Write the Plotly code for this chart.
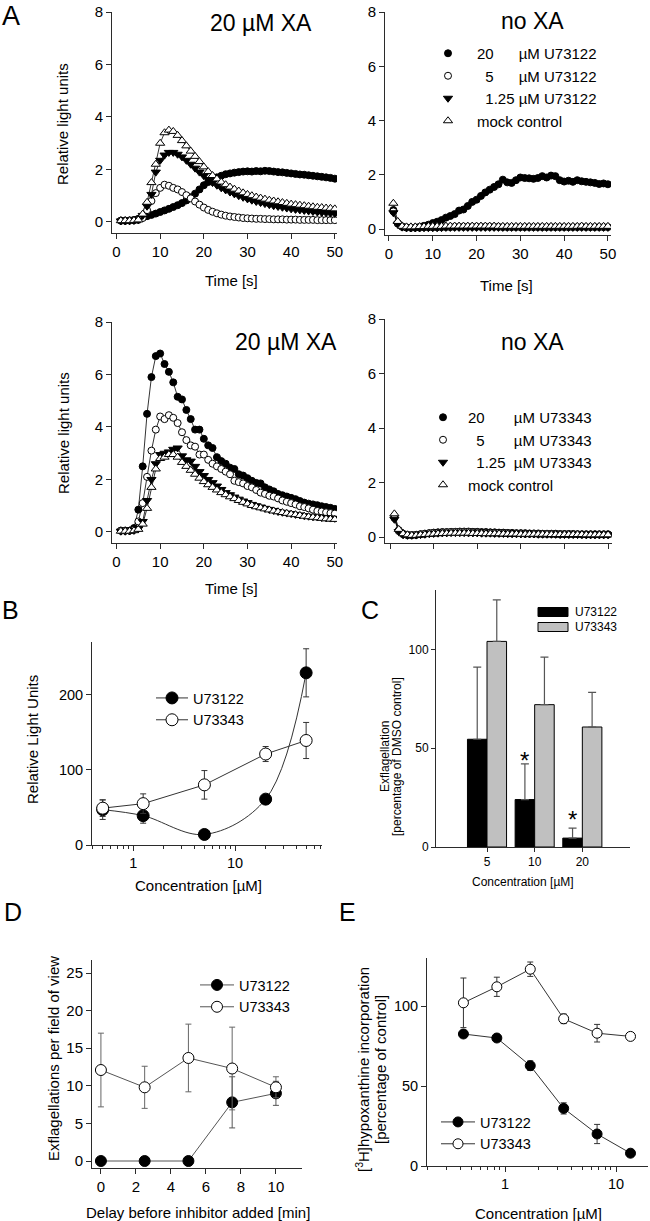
import plotly.graph_objects as go

W, H = 650, 1221
def px(x): return x / W
def py(y): return 1 - y / H

FONT = "Liberation Sans, Arial, Helvetica, sans-serif"
AXC = "#2b2b2b"
NB = "\u00a0"

# ---------------- Panel A data (time courses, t = 1..50 s) ----------------
time_s = list(range(1, 51))

# top-left: 20 uM XA, U73122
a_xa_u73122_20 = [0.05,0.05,0.06,0.08,0.12, 0.17,0.22,0.27,0.32,0.38, 0.44,0.50,0.57,0.64,0.72,
                  0.82,0.94,1.08,1.24,1.40, 1.52,1.62,1.70,1.76,1.82, 1.85,1.88,1.90,1.92,1.93,
                  1.92,1.94,1.93,1.95,1.94, 1.92,1.90,1.89,1.87,1.85, 1.83,1.81,1.80,1.78,1.76,
                  1.74,1.72,1.70,1.68,1.65]
a_xa_u73122_5 = [0.05,0.05,0.05,0.06,0.08, 0.15,0.45,0.80,1.10,1.30, 1.42,1.38,1.30,1.24,1.14,
                 1.02,0.90,0.78,0.66,0.55, 0.46,0.39,0.33,0.28,0.24, 0.21,0.19,0.17,0.15,0.14,
                 0.13,0.12,0.12,0.11,0.11, 0.10,0.10,0.10,0.09,0.09, 0.09,0.08,0.08,0.08,0.08,
                 0.07,0.07,0.07,0.07,0.07]
a_xa_u73122_125 = [0.04,0.04,0.05,0.06,0.08, 0.25,0.60,1.05,1.90,2.35, 2.55,2.65,2.65,2.58,2.48,
                   2.35,2.20,2.05,1.90,1.76, 1.62,1.50,1.40,1.30,1.22, 1.14,1.07,1.00,0.94,0.88,
                   0.83,0.78,0.74,0.70,0.66, 0.62,0.59,0.56,0.53,0.50, 0.48,0.46,0.44,0.42,0.40,
                   0.38,0.36,0.35,0.33,0.32]
a_xa_u73122_mock = [0.05,0.05,0.05,0.06,0.08, 0.30,0.75,1.50,2.20,3.00, 3.40,3.50,3.45,3.30,3.10,
                    2.90,2.70,2.50,2.30,2.10, 1.92,1.77,1.64,1.52,1.42, 1.33,1.25,1.18,1.11,1.05,
                    1.00,0.95,0.91,0.87,0.83, 0.80,0.77,0.74,0.71,0.68, 0.66,0.64,0.62,0.60,0.58,
                    0.56,0.55,0.53,0.52,0.50]

# top-right: no XA, U73122
a_no_u73122_20 = [0.70,0.22,0.10,0.06,0.05, 0.06,0.08,0.12,0.16,0.22, 0.27,0.33,0.42,0.48,0.55,
                  0.68,0.72,0.85,1.00,1.08, 1.22,1.35,1.45,1.55,1.65, 1.82,1.72,1.70,1.80,1.90,
                  1.88,1.87,1.85,1.88,1.95, 1.90,1.97,1.95,1.80,1.75, 1.78,1.74,1.80,1.76,1.74,
                  1.72,1.70,1.66,1.68,1.65]
a_no_u73122_5 = [0.65,0.20,0.08,0.05,0.05, 0.05,0.05,0.06,0.06,0.06, 0.06,0.07,0.07,0.07,0.08,
                 0.08,0.08,0.08,0.08,0.08, 0.08,0.08,0.08,0.08,0.08, 0.07,0.07,0.07,0.07,0.07,
                 0.07,0.07,0.07,0.07,0.07, 0.07,0.07,0.07,0.07,0.07, 0.07,0.07,0.07,0.08,0.07,
                 0.07,0.07,0.07,0.07,0.07]
a_no_u73122_125 = [0.60,0.18,0.07,0.05,0.04, 0.04,0.04,0.05,0.05,0.05, 0.05,0.05,0.06,0.06,0.06,
                   0.06,0.06,0.06,0.06,0.06, 0.06,0.06,0.06,0.06,0.06, 0.06,0.06,0.06,0.06,0.06,
                   0.06,0.06,0.06,0.06,0.06, 0.06,0.06,0.06,0.06,0.06, 0.06,0.06,0.06,0.06,0.06,
                   0.06,0.06,0.06,0.06,0.06]
a_no_u73122_mock = [0.95,0.28,0.10,0.08,0.08, 0.08,0.09,0.09,0.10,0.10, 0.10,0.10,0.11,0.11,0.11,
                    0.11,0.11,0.11,0.11,0.11, 0.11,0.11,0.11,0.11,0.10, 0.10,0.10,0.10,0.10,0.10,
                    0.10,0.10,0.10,0.10,0.10, 0.10,0.10,0.10,0.10,0.10, 0.10,0.10,0.10,0.11,0.10,
                    0.10,0.10,0.10,0.10,0.10]

# bottom-left: 20 uM XA, U73343
a_xa_u73343_20 = [0.05,0.05,0.05,0.15,0.85, 2.50,4.50,5.90,6.70,6.80, 6.40,6.10,5.70,5.15,5.05,
                  4.65,4.30,3.90,3.90,3.55, 3.30,3.20,2.85,2.70,2.60, 2.45,2.40,2.20,2.15,2.05,
                  1.95,1.87,1.85,1.70,1.62, 1.55,1.45,1.40,1.35,1.30, 1.25,1.18,1.12,1.08,1.05,
                  1.02,0.98,0.95,0.92,0.88]
a_xa_u73343_5 = [0.05,0.05,0.05,0.08,0.40, 1.10,2.10,3.10,3.90,4.40, 4.30,4.45,4.35,4.15,3.80,
                 3.50,3.30,3.25,2.95,2.95, 2.75,2.60,2.50,2.40,2.30, 2.20,1.95,1.90,1.85,1.75,
                 1.70,1.60,1.50,1.45,1.38, 1.35,1.28,1.20,1.15,1.10, 1.05,0.98,0.95,0.90,0.85,
                 0.80,0.78,0.75,0.72,0.70]
a_xa_u73343_125 = [0.03,0.03,0.04,0.06,0.12, 0.40,1.20,2.00,2.60,2.95, 3.00,3.05,3.15,3.20,2.90,
                   2.75,2.70,2.50,2.30,2.15, 2.00,1.88,1.75,1.62,1.50, 1.42,1.33,1.25,1.18,1.12,
                   1.05,1.00,0.95,0.90,0.86, 0.82,0.78,0.75,0.72,0.70, 0.67,0.65,0.62,0.60,0.58,
                   0.57,0.55,0.54,0.53,0.52]
a_xa_u73343_mock = [0.03,0.03,0.03,0.05,0.10, 0.30,0.90,1.70,2.40,2.80, 2.85,2.95,2.95,2.85,2.65,
                    2.50,2.35,2.20,2.05,1.92, 1.80,1.70,1.60,1.50,1.42, 1.34,1.27,1.20,1.13,1.07,
                    1.01,0.96,0.92,0.88,0.84, 0.80,0.77,0.74,0.71,0.68, 0.66,0.63,0.60,0.58,0.56,
                    0.54,0.52,0.50,0.49,0.48]

# bottom-right: no XA, U73343
a_no_u73343_20 = [0.75,0.25,0.12,0.08,0.07, 0.08,0.10,0.12,0.14,0.16, 0.17,0.18,0.18,0.19,0.19,
                  0.20,0.20,0.20,0.19,0.19, 0.18,0.18,0.17,0.17,0.16, 0.16,0.15,0.15,0.14,0.14,
                  0.14,0.13,0.13,0.13,0.12, 0.12,0.12,0.12,0.11,0.11, 0.11,0.11,0.10,0.10,0.10,
                  0.10,0.10,0.10,0.10,0.10]
a_no_u73343_5 = [0.70,0.22,0.10,0.07,0.07, 0.08,0.10,0.12,0.14,0.15, 0.16,0.17,0.17,0.18,0.18,
                 0.18,0.18,0.18,0.17,0.17, 0.16,0.16,0.16,0.15,0.15, 0.14,0.14,0.13,0.13,0.13,
                 0.12,0.12,0.12,0.11,0.11, 0.11,0.11,0.10,0.10,0.10, 0.10,0.10,0.10,0.09,0.09,
                 0.09,0.09,0.09,0.09,0.09]
a_no_u73343_125 = [0.65,0.20,0.08,0.06,0.06, 0.07,0.09,0.10,0.12,0.13, 0.14,0.15,0.15,0.16,0.16,
                   0.16,0.16,0.15,0.15,0.15, 0.14,0.14,0.14,0.13,0.13, 0.13,0.12,0.12,0.12,0.11,
                   0.11,0.11,0.11,0.10,0.10, 0.10,0.10,0.10,0.09,0.09, 0.09,0.09,0.09,0.09,0.08,
                   0.08,0.08,0.08,0.08,0.08]
a_no_u73343_mock = [0.85,0.28,0.12,0.08,0.06, 0.06,0.08,0.09,0.10,0.11, 0.12,0.13,0.13,0.14,0.14,
                    0.14,0.14,0.14,0.13,0.13, 0.13,0.12,0.12,0.12,0.12, 0.11,0.11,0.11,0.11,0.10,
                    0.10,0.10,0.10,0.10,0.10, 0.10,0.09,0.09,0.09,0.09, 0.09,0.09,0.09,0.09,0.08,
                    0.08,0.08,0.08,0.08,0.08]

a_conc_labels = ["20", "5", "1.25"]

# ---------------- Panel B ----------------
b_conc = [0.5, 1.25, 5, 20, 50]
b_u73122 = [47, 39, 14, 61, 229]
b_u73122_err = [13, 10, 2, 3, 32]
b_u73343 = [49, 55, 80, 121, 139]
b_u73343_err = [11, 13, 19, 10, 24]

# ---------------- Panel C ----------------
c_conc = ["5", "10", "20"]
c_u73122 = [54.5, 24, 4.5]
c_u73122_err = [36.5, 18, 5]
c_u73343 = [104, 72, 60.7]
c_u73343_err = [21, 24, 17.5]

# ---------------- Panel D ----------------
d_delay = [0, 2.5, 5, 7.5, 10]
d_u73122 = [0, 0, 0, 7.8, 9.0]
d_u73122_err = [0, 0, 0, 3.4, 1.6]
d_u73343 = [12.1, 9.8, 13.7, 12.3, 9.8]
d_u73343_err = [4.9, 2.8, 4.5, 5.5, 1.4]

# ---------------- Panel E ----------------
e_conc = [0.421875, 0.84375, 1.6875, 3.375, 6.75, 13.5]
e_u73122 = [82.5, 80, 62.7, 36, 20, 8]
e_u73122_err = [2, 2, 3, 3.5, 6, 1.5]
e_u73343 = [102, 112, 123, 92, 83, 81]
e_u73343_err = [15.5, 6, 4.5, 3, 5.5, 1.5]

fig = go.Figure()

# ---------- marker styles ----------
M_FILLED = dict(symbol="circle", color="black", line=dict(color="black", width=1))
M_OPEN = dict(symbol="circle", color="white", line=dict(color="black", width=1))
M_TRI_DN = dict(symbol="triangle-down", color="black", line=dict(color="black", width=1))
M_TRI_UP = dict(symbol="triangle-up", color="white", line=dict(color="black", width=1))
a_styles = [(M_FILLED, 7), (M_OPEN, 7), (M_TRI_DN, 8), (M_TRI_UP, 8)]


def a_labels(drug, sp_main, sp_125):
    return [a_conc_labels[0] + NB * sp_main + "µM " + drug,
            NB * 2 + a_conc_labels[1] + NB * sp_main + "µM " + drug,
            NB * 2 + a_conc_labels[2] + NB * sp_125 + "µM " + drug,
            "mock control"]


def add_a_panel(series, xa, ya, labels=None, legend=None):
    for ys in series:
        fig.add_trace(go.Scatter(x=time_s, y=ys, mode="lines", xaxis=xa, yaxis=ya,
                                 line=dict(color="black", width=0.8), showlegend=False,
                                 hoverinfo="skip"))
    for i, ys in enumerate(series):
        st, sz = a_styles[i]
        fig.add_trace(go.Scatter(x=time_s, y=ys, mode="markers", xaxis=xa, yaxis=ya,
                                 marker=dict(size=sz, **st),
                                 name=labels[i] if labels else "series",
                                 showlegend=labels is not None,
                                 legend=legend if legend else "legend"))


add_a_panel([a_xa_u73122_20, a_xa_u73122_5, a_xa_u73122_125, a_xa_u73122_mock], "x", "y")
add_a_panel([a_no_u73122_20, a_no_u73122_5, a_no_u73122_125, a_no_u73122_mock], "x2", "y2",
            labels=a_labels("U73122", 6, 1), legend="legend")
add_a_panel([a_xa_u73343_20, a_xa_u73343_5, a_xa_u73343_125, a_xa_u73343_mock], "x3", "y3")
add_a_panel([a_no_u73343_20, a_no_u73343_5, a_no_u73343_125, a_no_u73343_mock], "x4", "y4",
            labels=a_labels("U73343", 7, 2), legend="legend2")

# ---------- Panel B ----------
ERR = dict(type="data", color="#333333", thickness=1, width=3)
fig.add_trace(go.Scatter(x=b_conc, y=b_u73122, mode="lines+markers", xaxis="x5", yaxis="y5",
                         name="U73122", legend="legend3",
                         line=dict(color="#333333", width=1, shape="spline", smoothing=1.0),
                         marker=dict(size=12, **M_FILLED),
                         error_y=dict(array=b_u73122_err, **ERR)))
fig.add_trace(go.Scatter(x=b_conc, y=b_u73343, mode="lines+markers", xaxis="x5", yaxis="y5",
                         name="U73343", legend="legend3",
                         line=dict(color="#333333", width=1),
                         marker=dict(size=12, **M_OPEN),
                         error_y=dict(array=b_u73343_err, **ERR)))

# ---------- Panel C ----------
c_pos = list(range(len(c_conc)))
fig.add_trace(go.Bar(x=c_pos, y=c_u73122, xaxis="x6", yaxis="y6", width=0.41, offset=-0.41,
                     marker=dict(color="black", line=dict(color="black", width=1)),
                     showlegend=False, name="U73122",
                     error_y=dict(type="data", array=c_u73122_err, arrayminus=[0] * len(c_conc),
                                  symmetric=False, color="#555555", thickness=1.2, width=4)))
fig.add_trace(go.Bar(x=c_pos, y=c_u73343, xaxis="x6", yaxis="y6", width=0.41, offset=0,
                     marker=dict(color="#c0c0c0", line=dict(color="black", width=1)),
                     showlegend=False, name="U73343",
                     error_y=dict(type="data", array=c_u73343_err, arrayminus=[0] * len(c_conc),
                                  symmetric=False, color="#555555", thickness=1.2, width=4)))

# ---------- Panel D ----------
fig.add_trace(go.Scatter(x=d_delay, y=d_u73122, mode="lines+markers", xaxis="x7", yaxis="y7",
                         name="U73122", legend="legend4",
                         line=dict(color="#555555", width=1),
                         marker=dict(size=11, **M_FILLED),
                         error_y=dict(array=d_u73122_err, type="data", color="#555555",
                                      thickness=1, width=3)))
fig.add_trace(go.Scatter(x=d_delay, y=d_u73343, mode="lines+markers", xaxis="x7", yaxis="y7",
                         name="U73343", legend="legend4",
                         line=dict(color="#555555", width=1),
                         marker=dict(size=11, **M_OPEN),
                         error_y=dict(array=d_u73343_err, type="data", color="#666666",
                                      thickness=1, width=3)))

# ---------- Panel E ----------
fig.add_trace(go.Scatter(x=e_conc, y=e_u73122, mode="lines+markers", xaxis="x8", yaxis="y8",
                         name="U73122", legend="legend5",
                         line=dict(color="#333333", width=1),
                         marker=dict(size=10, **M_FILLED),
                         error_y=dict(array=e_u73122_err, **ERR)))
fig.add_trace(go.Scatter(x=e_conc, y=e_u73343, mode="lines+markers", xaxis="x8", yaxis="y8",
                         name="U73343", legend="legend5",
                         line=dict(color="#333333", width=1),
                         marker=dict(size=10, **M_OPEN),
                         error_y=dict(array=e_u73343_err, **ERR)))


# ---------- axes ----------
def ax(domain_px, rng, size=14, **kw):
    d = dict(domain=domain_px, range=rng, showline=True, linecolor=AXC, linewidth=1,
             ticks="outside", ticklen=5, tickcolor=AXC, tickwidth=1, showgrid=False,
             zeroline=False, tickfont=dict(size=size, color="black", family=FONT),
             fixedrange=True)
    d.update(kw)
    return d


def xd(a, b): return [px(a), px(b)]
def yd(top, bottom): return [py(bottom), py(top)]


a_xt = [0, 10, 20, 30, 40, 50]
a_yt = [0, 2, 4, 6, 8]
minor_log = dict(ticks="outside", ticklen=3, tickcolor=AXC,
                 tickvals=[0.2, 0.3, 0.4, 0.5, 0.6, 0.7, 0.8, 0.9, 2, 3, 4, 5, 6, 7, 8, 9,
                           20, 30, 40, 50, 60, 70])

layout_axes = dict(
    xaxis=ax(xd(112, 337), [-1.03, 50.5], 15, tickvals=a_xt, anchor="y"),
    yaxis=ax(yd(12, 233), [-0.42, 8], 15, tickvals=a_yt, anchor="x"),
    xaxis2=ax(xd(385, 611), [-0.91, 50.7], 15, tickvals=a_xt, anchor="y2"),
    yaxis2=ax(yd(12, 235), [-0.22, 8], 15, tickvals=a_yt, anchor="x2"),
    xaxis3=ax(xd(112, 337), [-1.03, 50.5], 15, tickvals=a_xt, anchor="y3"),
    yaxis3=ax(yd(322, 543), [-0.42, 8], 15, tickvals=a_yt, anchor="x3"),
    xaxis4=ax(xd(385, 612), [-1.15, 50.9], 15, tickvals=a_xt, showticklabels=False, anchor="y4"),
    yaxis4=ax(yd(319, 543), [-0.22, 8], 15, tickvals=a_yt, anchor="x4"),
    xaxis5=ax(xd(92, 322), [-0.406, 1.855], 14.5, type="log", tickvals=[1, 10], ticktext=["1", "10"],
              minor=minor_log, anchor="y5"),
    yaxis5=ax(yd(642, 845), [0, 270], 14.5, tickvals=[0, 100, 200], anchor="x5"),
    xaxis6=ax(xd(436, 630), [-1.07, 3.0], 12, tickvals=c_pos, ticktext=c_conc,
              ticklen=4, anchor="y6"),
    yaxis6=ax(yd(590, 847), [0, 130], 12, tickvals=[0, 50, 100], ticklen=4, anchor="x6"),
    xaxis7=ax(xd(92, 302), [-0.51, 11.49], 15, tickvals=[0, 2, 4, 6, 8, 10], anchor="y7"),
    yaxis7=ax(yd(960, 1168), [-0.93, 26.73], 15, tickvals=[0, 5, 10, 15, 20, 25], anchor="x7"),
    xaxis8=ax(xd(427, 648), [-0.703, 1.288], 14.5, type="log", tickvals=[1, 10], ticktext=["1", "10"],
              minor=minor_log, anchor="y8"),
    yaxis8=ax(yd(958, 1166), [0, 130], 14.5, tickvals=[0, 50, 100], anchor="x8"),
)


# ---------- legends ----------
def leg(left, top, size, itemwidth):
    return dict(x=px(left), y=py(top), xanchor="left", yanchor="top", bgcolor="rgba(0,0,0,0)",
                borderwidth=0, font=dict(size=size, family=FONT, color="black"),
                itemwidth=itemwidth, tracegroupgap=0, itemclick=False, itemdoubleclick=False)


legends = dict(
    legend=leg(419, 37, 15, 48),
    legend2=leg(418, 401, 15, 40),
    legend3=leg(151, 682, 14.5, 32),
    legend4=leg(195, 969, 14.5, 34),
    legend5=leg(436, 1106, 14.5, 34),
)

# ---------- annotations ----------
def ann(text, x, y, size=14, angle=0, **kw):
    d = dict(text=text, x=px(x), y=py(y), xref="paper", yref="paper", showarrow=False,
             xanchor="center", yanchor="middle", textangle=angle,
             font=dict(size=size, family=FONT, color="black"))
    d.update(kw)
    return d


annotations = [
    ann("A", 11, 16, 27), ann("B", 10, 610, 25), ann("C", 370, 610, 25),
    ann("D", 13, 912, 25), ann("E", 347, 912, 25),
    ann("20 µM XA", 261, 23, 23), ann("no XA", 532, 21, 23),
    ann("20 µM XA", 286, 342, 23), ann("no XA", 532, 342, 23),
    ann("Relative light units", 63, 124, 15, -90),
    ann("Relative light units", 63, 433, 15, -90),
    ann("Time [s]", 231, 281, 15), ann("Time [s]", 506, 285, 15), ann("Time [s]", 232, 588, 15),
    ann("Relative Light Units", 32, 740, 15, -90),
    ann("Concentration [µM]", 198, 885, 15),
    ann("Exflagellation", 385, 757, 12, -90),
    ann("[percentage of DMSO control]", 397, 757, 12, -90),
    ann("Concentration [µM]", 523, 882, 12),
    ann("U73122", 573, 612, 12, xanchor="left"),
    ann("U73343", 573, 627, 12, xanchor="left"),
    ann("Exflagellations per field of view", 53, 1058, 15, -90),
    ann("Delay before inhibitor added [min]", 198, 1212, 15),
    ann("[<sup>3</sup>H]hypoxanthine incorporation", 362, 1070, 15, -90),
    ann("[percentage of control]", 380, 1070, 15, -90),
    ann("Concentration [µM]", 538, 1213, 15),
    # significance marks above U73122 bars in C
    dict(text="*", x=c_pos[1] - 0.205, y=44, xref="x6", yref="y6", showarrow=False,
         xanchor="center", yanchor="middle", font=dict(size=24, family=FONT, color="black")),
    dict(text="*", x=c_pos[2] - 0.205, y=14, xref="x6", yref="y6", showarrow=False,
         xanchor="center", yanchor="middle", font=dict(size=24, family=FONT, color="black")),
]

shapes = [
    dict(type="rect", xref="paper", yref="paper", x0=px(538), x1=px(568), y0=py(616.5), y1=py(607.5),
         fillcolor="black", line=dict(color="black", width=1)),
    dict(type="rect", xref="paper", yref="paper", x0=px(538), x1=px(568), y0=py(631.5), y1=py(622.5),
         fillcolor="#c0c0c0", line=dict(color="black", width=1)),
]

fig.update_layout(
    width=W, height=H, margin=dict(l=0, r=0, t=0, b=0, pad=0, autoexpand=False),
    paper_bgcolor="white", plot_bgcolor="white",
    font=dict(family=FONT, size=14, color="black"),
    annotations=annotations, shapes=shapes, barmode="overlay",
    **layout_axes, **legends,
)

fig.write_html("out.html", config={"displayModeBar": False},
               post_script="document.body.style.margin='0';document.body.style.overflow='hidden';")
